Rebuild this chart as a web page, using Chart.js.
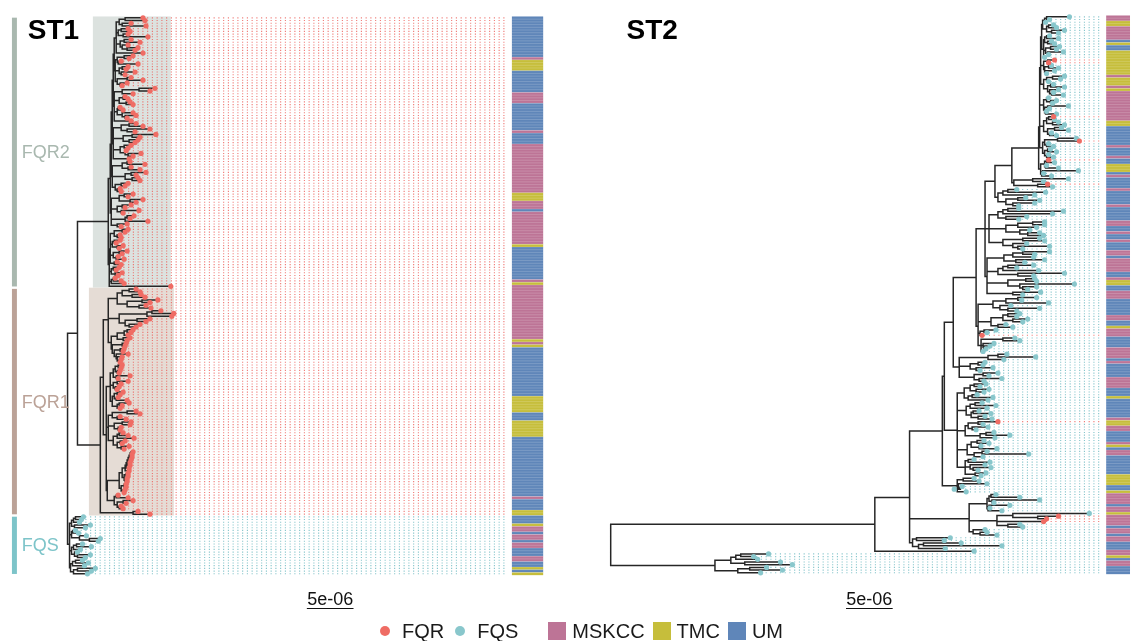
<!DOCTYPE html>
<html>
<head>
<meta charset="utf-8">
<script src="https://cdn.jsdelivr.net/npm/chart.js@4.4.1/dist/chart.umd.min.js"></script>
<style>
  body { margin: 0; background: #fff; }
  #wrap { position: relative; width: 1135px; height: 641px; }
  #legend { position: absolute; top: 620px; left: 380px; height: 22px; display: flex; align-items: center;
            font: 20px 'Liberation Sans', Arial, sans-serif; color: #1a1a1a; }
  #legend .dot { width: 10px; height: 10px; border-radius: 50%; }
  #legend .sq { width: 18px; height: 18px; }
</style>
</head>
<body>
<div id="wrap">
  <canvas id="trees" width="1135" height="641"></canvas>
  <div id="legend"></div>
</div>
<script>
// ==========================================
// DATA - trees as nested lists. number = distance from root (units where the
// 5e-06 scale bar is 47 long). R = FQR tip, S = FQS tip, otherwise clade default.
// ==========================================
const scaleBarLabel = '5e-06';
const scaleBarUnits = 47;

// ---- ST1 ----
const st1Fqr2Groups = [
  '(((76,78):58,(64,79):55):52,((61,63):54,(61,81):56):51,((64,73):57,(61,(71,68):60):55):53,76):49',
  '(((66,62):57,(54,71):51):50,((61,59):55,(68,58):54):52,((64,76):60,(60,55):53):50):48',
  '(((88,83):72,66):55,((58,61):56,(63,66):59):52,((53,56):51,(66,(69,60):58):55):50,64):47',
  '(((69,76):62,(83,68):60):54,((89,73):65,(71,68):62):56,((64,61):57,(59,(74,66):61):58):53,62):46',
  '(((63,78):60,(64,73):61):55,((79,69):64,(71,73):65):58,((61,58):54,(53,54):50):48):45',
  '(((66,61):57,(76,69):63):52,((64,58):55,(72,56):54):50,((67,63):60,81):58,(60,54):50):44'
];
const st1Fqr2Ladder = [47, 46, 45, 44, 43];
const st1Fqr2Bottom = [
  '(((61,58):55,(53,54):50):47,((53,49):47,(56,52):50):45,((60,55):52,(51,57):49):46,(50,54):47):43',
  '(((52,49):46,(55,51):48):44,((48,54):46,57):44,104):42'
];

const st1Fqr1Upper = '((((69,73):62,(74,78):65):55,((91,83):75,(79,84):72):60):50,(((94,107):85,105):80,((83,79):70,(73,69):62):58):52,((((66,64):60,61):57,(63,60):56):50,((59,58):55,((57,56):53,(61,(55,(54,53):52):50):49):47):45):44):41';
const st1Fqr1Lower = [
  '((((55,54):51,(53,52):50):48,(63,51):49):46,((61,54):50,(52,50):48):46,(((56,53):50,(51,60):49):47,((62,55):52,53):50):45):43',
  '(((69,73):60,(53,59):50):45,((64,63):55,(54,53):51):47,(((56,61):52,67):50,((58,55):53,(62,57):54):50):46):41',
  '((((((((((66,65):64,65):63,64):62,63):61,63):60,62):59,62):58,((61,61):59,(60,60):58):57):55,((59,59):57,(58,57):56):54):52,((51,61):49,((66,59):56,(54,56):52):50):47):40'
];
const st1Fqr1Base = '(71,83):66';
const st1Fqs = '((((S16,S14):8,S12):6,(S23,S18):7):4,((S8,S11):5,(S19,(S33,S31):22):12):4,(((S15,S24):9,S13):6,(S10,(S23,S18):10):7):4,(((S15,S21):8,S17):5,((S28,S24):10,S20):6):3):2';

// sites, top to bottom: [site, number of rows]
const st1Sites = [['UM',15],['MSKCC',1],['TMC',4],['UM',8],['MSKCC',4],['UM',10],['MSKCC',1],['UM',4],['MSKCC',18],
  ['TMC',3],['MSKCC',3],['UM',1],['MSKCC',12],['TMC',1],['UM',12],['MSKCC',1],['TMC',1],['MSKCC',20],['TMC',1],
  ['MSKCC',1],['TMC',1],['UM',18],['TMC',6],['UM',3],['TMC',6],['UM',22],['MSKCC',1],['UM',4],['TMC',2],['UM',3],
  ['TMC',1],['MSKCC',2],['UM',1],['MSKCC',2],['UM',1],['MSKCC',2],['UM',3],['MSKCC',2],['UM',2],['TMC',1],['UM',1],['TMC',1]];

const st1CladeNames = ['FQR2', 'FQR1', 'FQS'];

// ---- ST2 ----
const st2TopGroups = [
  '(((462,442):439,438):437,((446,449):441,(457,451):444):439):435',
  '(((442,451):439,(444,447):440):437,((452,449):443,(456,441):440):438,437):436',
  '((R447,R441):440,((444,451):441,(447,439):438):437):436',
  '(((457,453):445,441):439,((446,457):443,(451,(446,456):444):442):440):436',
  '((441,(449,445):443):439,((461,442):440,(439,449):438):437):436',
  '(((R446,447):441,(451,457):445):439,((454,461):447,(444,449):442):440):436',
  '(((469,R472):450,(441,446):439):437,((443,449):440,(441,446):439):437):435',
  '(((R441,447):439,(439,451):438):437,((471,436):435,444):434):433'
];
const st2TopLadder = [434, 433, 433, 432, 432, 432, 431];

// backbone from the top clade down to the root: [node distance, side clades...]
const st2Spine = [
  [404, '((461,436):425,(R440,445):430):406'],
  [387, '(((409,438):400,427):395,((418,432):410,(427,411):405):398):390'],
  [377, '((((411,456):400,445):395,(419,411):398):390,(((437,437):425,429):410,(422,(432,436):420):412):398,((432,437):415,(419,(442,415):410):405):395):381',
        '((((442,427):415,426):405,(437,417):408):396,(((426,409):400,431):395,(457,426):410):390,((427,429):418,(467,(429,420):415):412):400,(433,415):405):379'],
  [368, '((((429,414):410,441):398,(403,(432,409):400):392):385,(((412,409):400,(420,415):405):395,(398,405):390):383,((388,379):376,R374):372,((407,412):395,(386,(382,378):376):375,375):373):370'],
  [345, '(((399,428):390,396):380,((377,375):370,(385,372):368):362,((390,381):375,(394,376):371):366):351'],
  [336, '((((378,372):366,(381,376):368):362,((369,385):364,380):360):356,(((374,388):367,379):362,((371,383):365,(377,384):370):363):358,(((R390,375):370,(380,368):364):360,((386,402):378,387):372):357,(((376,381):369,(373,389):371):363,((379,421):374,375):366):359,((366,382):360,(377,(383,370):365):362,(378,373):367):357):349'],
  [334, '((366,371):355,(379,(354,346):352):350,358):349'],
  [301, '((((388,412):383,(432,386):384):381,((402,382):381,394):380):379,((482,(R451,R439):430):405,R436,(412,415):400):389,(377,(379,389):372):365):361',
        '((342,336):308,((353,394):315,337):310):304'],
  [266, '366'],
  [0, '((((159,144):131,148):126,(171,183):135):121,((157,173):140,151):128):105']
];

const st2Sites = [['MSKCC',2],['TMC',2],['MSKCC',5],['UM',1],['TMC',1],['UM',2],['TMC',9],['MSKCC',1],['TMC',3],
  ['MSKCC',1],['TMC',1],['MSKCC',11],['TMC',2],['UM',7],['MSKCC',1],['UM',3],['MSKCC',1],['UM',2],['TMC',3],['UM',1],
  ['MSKCC',1],['UM',4],['MSKCC',1],['UM',5],['MSKCC',1],['UM',5],['MSKCC',2],['UM',2],['MSKCC',1],['UM',2],['MSKCC',1],
  ['UM',3],['MSKCC',2],['UM',1],['MSKCC',5],['UM',2],['MSKCC',1],['TMC',2],['UM',2],['MSKCC',3],['UM',6],['MSKCC',2],
  ['UM',2],['TMC',1],['MSKCC',3],['UM',4],['MSKCC',4],['UM',1],['MSKCC',1],['UM',5],['MSKCC',4],['UM',3],['TMC',1],
  ['UM',7],['MSKCC',1],['TMC',2],['MSKCC',2],['UM',4],['MSKCC',1],['TMC',1],['UM',1],['MSKCC',2],['UM',7],['TMC',4],
  ['UM',2],['TMC',1],['MSKCC',4],['UM',1],['MSKCC',2],['TMC',1],['MSKCC',4],['UM',1],['MSKCC',2],['UM',1],['MSKCC',2],
  ['UM',3],['MSKCC',2],['TMC',1],['UM',1],['MSKCC',2],['UM',3]];

const statusNames = ['FQR', 'FQS'];
const siteNames = ['MSKCC', 'TMC', 'UM'];

// ==========================================
// STYLES / LAYOUT
// ==========================================
const statusColors = { FQR: '#EF6C64', FQS: '#89C7CC' };
const dottedColors = { FQR: 'rgba(236,96,92,0.85)', FQS: 'rgba(118,190,196,0.9)' };
const siteColors = { MSKCC: '#BD7496', TMC: '#C6BE3B', UM: '#5F86B9' };
const cladeColors = {
  FQR2: { bar: '#A9B8AF', fill: '#DCE2DF' },
  FQR1: { bar: '#BBA297', fill: '#E5DCD5' },
  FQS:  { bar: '#7DC4C9', fill: null }
};
const FONT = "'Liberation Sans', Arial, sans-serif";
const W = 1135, H = 641;
const panels = {
  st1: { rootPx: 64, topPx: 14, bottomPx: 577, dotEnd: 440, strip: [447.5, 479], title: 'ST1', titleX: -40, barX: 241 },
  st2: { rootPx: 611, topPx: 13, bottomPx: 576, dotEnd: 492, strip: [499, 523], title: 'ST2', titleX: 16, barX: 237 }
};

// ==========================================
// TREE HELPERS
// ==========================================
function ladder(groups, depths) {
  let s = groups[0];
  for (let k = 1; k < groups.length; k++) s = `(${s},${groups[k]}):${depths[k - 1]}`;
  return s;
}
function spine(start, steps) {
  let s = start;
  steps.forEach(([d, ...others]) => { s = `(${[s, ...others].join(',')}):${d}`; });
  return s;
}
function parseTree(src, defaultStatus) {
  const s = src.replace(/\s+/g, '');
  let i = 0;
  const readNum = () => { const m = /^-?[0-9.]+/.exec(s.slice(i)); i += m[0].length; return +m[0]; };
  function node() {
    if (s[i] === '(') {
      i++;
      const kids = [node()];
      while (s[i] === ',') { i++; kids.push(node()); }
      i++;
      let depth = 0;
      if (s[i] === ':') { i++; depth = readNum(); }
      return { depth, children: kids };
    }
    let status = defaultStatus;
    if (s[i] === 'R') { status = 'FQR'; i++; } else if (s[i] === 'S') { status = 'FQS'; i++; }
    return { depth: readNum(), children: [], status };
  }
  return node();
}
function layout(root) {
  const tips = [];
  const place = n => {
    if (!n.children.length) {
      n.y = tips.length + 1; tips.push(n);
      n.first = n.last = n.y; n.maxDepth = n.depth; return;
    }
    n.children.forEach(c => { c.parent = n; place(c); });
    n.y = n.children.reduce((a, c) => a + c.y, 0) / n.children.length;
    n.first = n.children[0].first;
    n.last = n.children[n.children.length - 1].last;
    n.maxDepth = Math.max(...n.children.map(c => c.maxDepth));
  };
  place(root);
  return tips;
}
function branchData(root) {
  const out = [], gap = { x: null, y: null };
  const walk = n => {
    if (!n.children.length) return;
    const ys = n.children.map(c => c.y);
    out.push({ x: n.depth, y: Math.min(...ys) }, { x: n.depth, y: Math.max(...ys) }, gap);
    n.children.forEach(c => { out.push({ x: n.depth, y: c.y }, { x: c.depth, y: c.y }, gap); walk(c); });
  };
  walk(root);
  return out;
}
function dottedData(tips, status, end) {
  const out = [];
  tips.filter(t => t.status === status).forEach(t => out.push({ x: end, y: t.y }, { x: t.depth, y: t.y }, { x: null, y: null }));
  return out;
}
function tipData(tips, status) {
  return tips.filter(t => t.status === status).map(t => ({ x: t.depth, y: t.y }));
}

// ---- build the trees ----
const st1Fqr2 = `(${ladder(st1Fqr2Groups, st1Fqr2Ladder)},(${st1Fqr2Bottom.join(',')}):42):41`;
const st1Fqr1 = spine(st1Fqr1Upper, [[36, `(${st1Fqr1Lower.join(',')}):39`], [33, st1Fqr1Base]]);
const st1Root = parseTree(spine(st1Fqr2, [[10, st1Fqr1], [0, st1Fqs]]), 'FQR');
const st1Tips = layout(st1Root);
const st1Clades = [st1Root.children[0].children[0], st1Root.children[0].children[1], st1Root.children[1]];

const st2Root = parseTree(spine(ladder(st2TopGroups, st2TopLadder), st2Spine), 'FQS');
const st2Tips = layout(st2Root);

function yRange(p, n) {
  const s = (p.bottomPx - p.topPx) / (n - 1);
  return { min: 1 - p.topPx / s, max: n + (H - p.bottomPx) / s };
}
const y1r = yRange(panels.st1, st1Tips.length);
const y2r = yRange(panels.st2, st2Tips.length);

// ==========================================
// DATASETS
// ==========================================
function panelDatasets(root, tips, p, xID, yID) {
  const ds = [];
  statusNames.forEach(st => ds.push({
    label: 'dots ' + st, data: dottedData(tips, st, p.dotEnd), xAxisID: xID, yAxisID: yID,
    showLine: true, pointRadius: 0, borderColor: dottedColors[st], borderWidth: 1.1,
    borderDash: [1.1, 3.65], spanGaps: false, order: 3
  }));
  ds.push({
    label: 'branches', data: branchData(root), xAxisID: xID, yAxisID: yID,
    showLine: true, pointRadius: 0, borderColor: '#262626', borderWidth: 1.5,
    borderCapStyle: 'square', spanGaps: false, order: 2
  });
  statusNames.forEach(st => ds.push({
    label: st, data: tipData(tips, st), xAxisID: xID, yAxisID: yID,
    pointRadius: 2.6, pointBackgroundColor: statusColors[st], pointBorderWidth: 0, order: 1
  }));
  return ds;
}

// ==========================================
// DECORATIONS (highlights, strips, clade bars, text)
// ==========================================
function drawStrip(ctx, xs, ys, runs, p) {
  const l = xs.getPixelForValue(p.strip[0]), r = xs.getPixelForValue(p.strip[1]);
  let row = 1;
  runs.forEach(([site, n]) => {
    const t = ys.getPixelForValue(row - 0.5), b = ys.getPixelForValue(row + n - 0.5);
    ctx.fillStyle = siteColors[site];
    ctx.fillRect(l, t, r - l, b - t);
    row += n;
  });
  ctx.strokeStyle = 'rgba(255,255,255,0.3)';
  ctx.lineWidth = 0.6;
  ctx.beginPath();
  for (let k = 1; k < row - 1; k++) {
    const y = ys.getPixelForValue(k + 0.5);
    ctx.moveTo(l, y); ctx.lineTo(r, y);
  }
  ctx.stroke();
}
function drawScaleBar(ctx, xs, p) {
  const a = xs.getPixelForValue(p.barX), b = xs.getPixelForValue(p.barX + scaleBarUnits);
  ctx.fillStyle = '#111';
  ctx.font = '18px ' + FONT;
  ctx.textAlign = 'center';
  ctx.textBaseline = 'alphabetic';
  ctx.fillText(scaleBarLabel, (a + b) / 2, 605);
  ctx.strokeStyle = '#111';
  ctx.lineWidth = 1;
  ctx.beginPath(); ctx.moveTo(a, 608.5); ctx.lineTo(b, 608.5); ctx.stroke();
}

const treeDecor = {
  id: 'treeDecor',
  beforeDatasetsDraw(chart) {
    const ctx = chart.ctx, xs = chart.scales.x1, ys = chart.scales.y1;
    ctx.save();
    st1Clades.forEach((c, k) => {
      const col = cladeColors[st1CladeNames[k]].fill;
      if (!col) return;
      const x0 = xs.getPixelForValue(c.depth - (c.depth - c.parent.depth) / 2);
      const x1 = xs.getPixelForValue(c.maxDepth);
      const t = ys.getPixelForValue(c.first - 0.5), b = ys.getPixelForValue(c.last + 0.5);
      ctx.fillStyle = col;
      ctx.fillRect(x0, t, x1 - x0, b - t);
    });
    ctx.restore();
  },
  afterDatasetsDraw(chart) {
    const ctx = chart.ctx, s = chart.scales;
    ctx.save();
    drawStrip(ctx, s.x1, s.y1, st1Sites, panels.st1);
    drawStrip(ctx, s.x2, s.y2, st2Sites, panels.st2);

    // clade bars + labels (ST1)
    st1Clades.forEach((c, k) => {
      const name = st1CladeNames[k];
      const t = s.y1.getPixelForValue(c.first - 0.5) + 1.2, b = s.y1.getPixelForValue(c.last + 0.5) - 1.2;
      const l = s.x1.getPixelForValue(-56), r = s.x1.getPixelForValue(-51);
      ctx.fillStyle = cladeColors[name].bar;
      ctx.fillRect(l, t, r - l, b - t);
      ctx.font = '18px ' + FONT;
      ctx.textAlign = 'left';
      ctx.textBaseline = 'middle';
      ctx.fillText(name, s.x1.getPixelForValue(-46), (t + b) / 2 + 1);
    });

    // titles
    ctx.fillStyle = '#000';
    ctx.font = 'bold 28px ' + FONT;
    ctx.textAlign = 'left';
    ctx.textBaseline = 'alphabetic';
    ctx.fillText(panels.st1.title, s.x1.getPixelForValue(panels.st1.titleX), 39);
    ctx.fillText(panels.st2.title, s.x2.getPixelForValue(panels.st2.titleX), 39);

    drawScaleBar(ctx, s.x1, panels.st1);
    drawScaleBar(ctx, s.x2, panels.st2);
    ctx.restore();
  }
};

// ==========================================
// CHART
// ==========================================
const p1 = panels.st1, p2 = panels.st2;
new Chart(document.getElementById('trees').getContext('2d'), {
  type: 'scatter',
  data: {
    datasets: [
      ...panelDatasets(st1Root, st1Tips, p1, 'x1', 'y1'),
      ...panelDatasets(st2Root, st2Tips, p2, 'x2', 'y2')
    ]
  },
  options: {
    responsive: false, animation: false, events: [],
    layout: { padding: 0 },
    plugins: { legend: { display: false }, tooltip: { enabled: false }, title: { display: false } },
    scales: {
      x: { display: false }, y: { display: false },
      x1: { type: 'linear', axis: 'x', display: false, min: -p1.rootPx, max: W - p1.rootPx },
      x2: { type: 'linear', axis: 'x', display: false, min: -p2.rootPx, max: W - p2.rootPx },
      y1: { type: 'linear', axis: 'y', display: false, reverse: true, min: y1r.min, max: y1r.max },
      y2: { type: 'linear', axis: 'y', display: false, reverse: true, min: y2r.min, max: y2r.max }
    }
  },
  plugins: [treeDecor]
});

// ==========================================
// LEGEND
// ==========================================
const legend = document.getElementById('legend');
statusNames.forEach((st, k) => {
  const d = document.createElement('span');
  d.className = 'dot'; d.style.background = statusColors[st]; d.style.marginLeft = k ? '11px' : '0';
  const t = document.createElement('span');
  t.textContent = st; t.style.marginLeft = '12px';
  legend.append(d, t);
});
siteNames.forEach((site, k) => {
  const q = document.createElement('span');
  q.className = 'sq'; q.style.background = siteColors[site]; q.style.marginLeft = k ? '8px' : '30px';
  const t = document.createElement('span');
  t.textContent = site; t.style.marginLeft = '6px';
  legend.append(q, t);
});
</script>
</body>
</html>
